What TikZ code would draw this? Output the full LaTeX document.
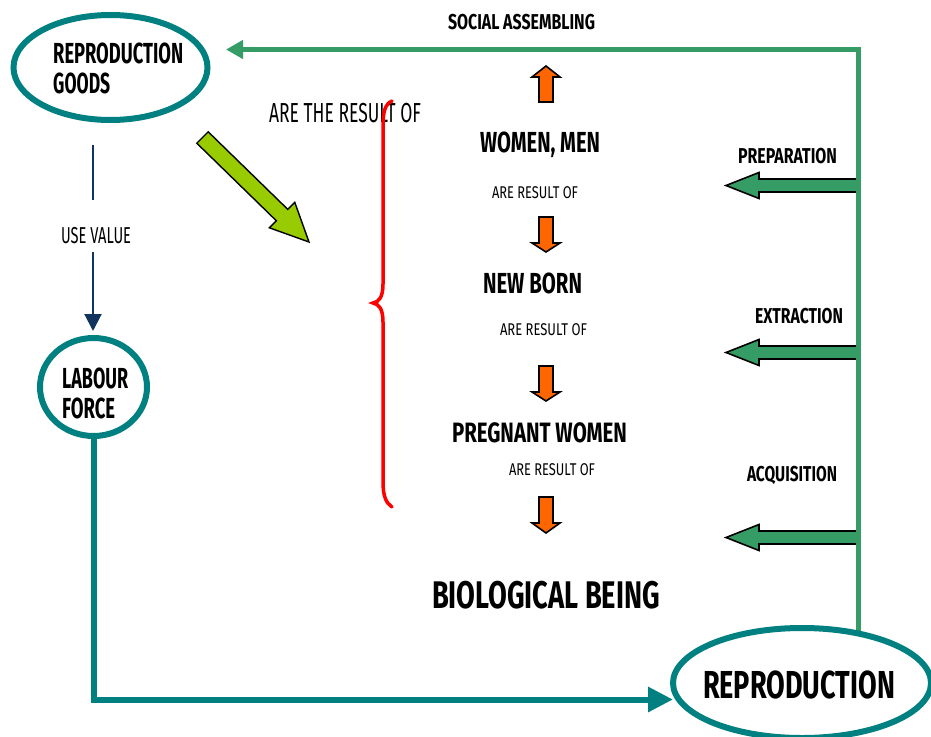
\documentclass[tikz,border=0pt]{standalone}
\usepackage{fontspec}
\usepackage{graphicx}
\usetikzlibrary{arrows.meta,shapes.geometric,calc}
\setmainfont{Fira Sans}
\newsavebox\twbox
\newcommand\tw[2]{\sbox\twbox{#2}\pgfmathsetmacro\twsx{#1/\the\wd\twbox}\scalebox{\twsx}[1]{\usebox\twbox}}
\newcommand\bsz[1]{\fontsize{#1}{#1}\selectfont\bfseries}
\newcommand\rsz[1]{\fontsize{#1}{#1}\selectfont}
\definecolor{tealc}{RGB}{0,128,128}
\definecolor{sgreen}{RGB}{54,156,102}
\definecolor{limec}{RGB}{153,204,0}
\definecolor{orng}{RGB}{255,102,0}
\definecolor{navyc}{RGB}{17,52,95}
\definecolor{redc}{RGB}{255,0,0}
\tikzset{
  lbl/.style={inner sep=0pt, outer sep=0pt, anchor=base, text=black},
  ring/.style={draw=tealc, line width=6pt, ellipse, fill=white, inner sep=0pt},
  blockor/.style={fill=orng, draw=black, line width=1.6pt, line join=miter},
  blockgr/.style={fill=sgreen, draw=black, line width=1.6pt, line join=miter},
  blocklime/.style={fill=limec, draw=black, line width=1.4pt, line join=miter},
  gline/.style={draw=sgreen, line width=5pt, -{Triangle[length=17pt,width=18pt]}},
  tline/.style={draw=tealc, line width=6pt, -{Triangle[length=25pt,width=24pt]}},
  nline/.style={draw=navyc, line width=2pt},
}
\begin{document}
\begin{tikzpicture}[x=1pt,y=-1pt]
\fill[white] (0,0) rectangle (931,736);
\useasboundingbox (0,0) rectangle (931,736);

% green side block arrows
\foreach \yy in {185.5,352.5,537.5}{
  \filldraw[blockgr] (858,\yy-6.5) -- (759,\yy-6.5) -- (759,\yy-13) -- (726,\yy) -- (759,\yy+13) -- (759,\yy+6.5) -- (858,\yy+6.5) -- cycle;
}

% green feedback line
\coordinate (gstart) at (858,632);
\coordinate (gtip) at (226,49.5);
\draw[gline] (gstart) |- (gtip);

% ellipses
\node[ring, minimum width=194pt, minimum height=105pt] (goods) at (110.5,67.5) {};
\node[ring, minimum width=107pt, minimum height=98pt] (labour) at (93.5,387) {};

% teal path
\coordinate (ttip) at (673,699.5);
\draw[tline] (labour.south) |- (ttip);

\node[ring, minimum width=258pt, minimum height=110pt] (repro) at (802,683) {};

% labels in ellipses
\node[inner sep=0pt, anchor=north west, align=left, font=\fontsize{29}{30}\selectfont\bfseries] (goodstxt) at (53,43)
  {\tw{130}{REPRODUCTION}\\\tw{57}{GOODS}};
\node[inner sep=0pt, anchor=north west, align=left, font=\fontsize{29}{30}\selectfont\bfseries] (labourtxt) at (62,368)
  {\tw{66}{LABOUR}\\\tw{53}{FORCE}};
\node[lbl] (reprotxt) at (799,698) {\bsz{39}\tw{192}{REPRODUCTION}};

% navy use-value connector
\coordinate (n1) at (93,145);
\coordinate (n2) at (93,200);
\node[lbl] (usevalue) at (96,243) {\rsz{23}\tw{70}{USE VALUE}};
\coordinate (n3) at (93,252);
\coordinate (n4) at (93,331);
\draw[nline] (n1) -- (n2);
\draw[nline, -{Triangle[length=17pt,width=17pt]}] (n3) -- (n4);

% top label
\node[lbl] (social) at (521.5,29) {\bsz{21.5}\tw{147}{SOCIAL ASSEMBLING}};

% lime arrow
\filldraw[blocklime] (208.2,131.8) -- (287.8,209.4) -- (294.8,202.4) -- (309,242) -- (269.4,227.8) -- (276.4,220.8) -- (196.8,143.2) -- cycle;

% are the result of + brace
\node[lbl] (arethe) at (345,122) {\rsz{27.5}\tw{152}{ARE THE RESULT OF}};
\draw[redc, line width=3.5pt, line cap=round]
  (392,101) .. controls (385,104) and (383,112) .. (383,126) -- (383,284)
  .. controls (383,297) and (379,302) .. (373,303)
  .. controls (379,304) and (383,309) .. (383,322) -- (383,482)
  .. controls (383,496) and (386,503) .. (392,507);

% orange arrows
\filldraw[blockor] (539,102) -- (539,77) -- (532,77) -- (546,66) -- (560,77) -- (553,77) -- (553,102) -- cycle;
\foreach \ta/\hb/\tp in {217/243/252, 366/392/401, 497/523/533}{
  \filldraw[blockor] (539,\ta) -- (539,\hb) -- (532,\hb) -- (546,\tp) -- (560,\hb) -- (553,\hb) -- (553,\ta) -- cycle;
}

% central column labels
\node[lbl] (women) at (540,152) {\bsz{29}\tw{120}{WOMEN, MEN}};
\node[lbl] (res1) at (535,198) {\rsz{17}\tw{86}{ARE RESULT OF}};
\node[lbl] (newborn) at (532.5,293) {\bsz{29}\tw{99}{NEW BORN}};
\node[lbl] (res2) at (543.5,335) {\rsz{17}\tw{87}{ARE RESULT OF}};
\node[lbl] (pregnant) at (539.5,442) {\bsz{28}\tw{175}{PREGNANT WOMEN}};
\node[lbl] (res3) at (552,475) {\rsz{17}\tw{86}{ARE RESULT OF}};
\node[lbl] (bio) at (546,608) {\bsz{38.5}\tw{228}{BIOLOGICAL BEING}};

% side labels
\node[lbl] (prep) at (787.5,163) {\bsz{21.5}\tw{99}{PREPARATION}};
\node[lbl] (extr) at (799,323) {\bsz{21.5}\tw{88}{EXTRACTION}};
\node[lbl] (acq) at (792,481) {\bsz{21.5}\tw{90}{ACQUISITION}};
\end{tikzpicture}
\end{document}
